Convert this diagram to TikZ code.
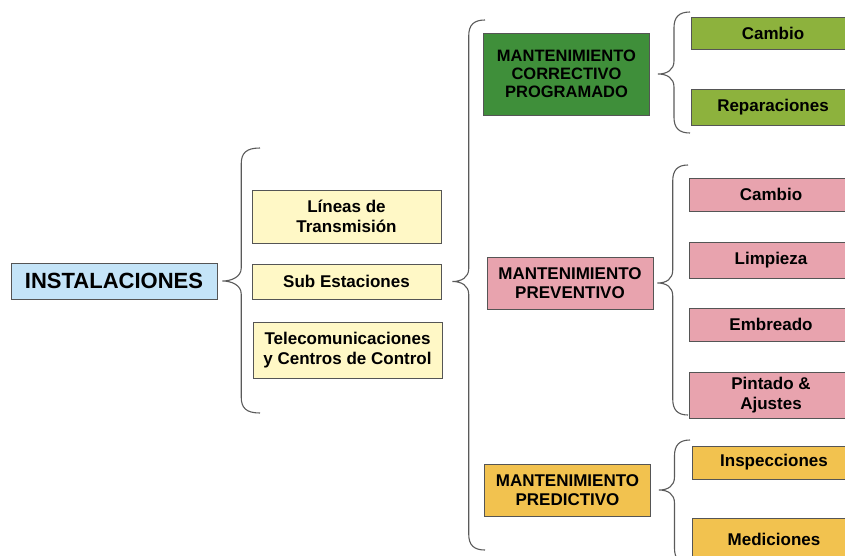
\documentclass[tikz,border=0pt]{standalone}
\usepackage{fontspec}
\setmainfont{Liberation Sans}
\usetikzlibrary{calc}

\definecolor{instblue}{HTML}{C4E4F8}
\definecolor{paleyellow}{HTML}{FFF8C6}
\definecolor{darkgreen}{HTML}{3F8F3A}
\definecolor{lightgreen}{HTML}{8DB23D}
\definecolor{pinkbox}{HTML}{E8A3AE}
\definecolor{amber}{HTML}{F2C24F}
\definecolor{boxline}{HTML}{555555}
\definecolor{braceline}{HTML}{5A5A5A}

\tikzset{
  box/.style={draw=boxline, line width=0.9pt, align=center, inner sep=0pt,
    font=\bfseries\fontsize{17}{19.5}\selectfont},
  subbox/.style={box, minimum width=189pt, fill=paleyellow},
  typebox/.style={box, minimum width=166pt, minimum height=52pt},
  taskbox/.style={box, minimum width=164pt},
  brace/.style={draw=braceline, line width=1.1pt},
}

% curly brace: tip, top end, bottom end
\newcommand{\curly}[3]{%
  \draw[brace] let \p1=(#1), \p2=(#2), \p3=(#3), \n1={0.5*\x1+0.5*\x2} in
    (\p2) .. controls (\n1+5pt,\y2) and (\n1,\y2-5pt) .. (\n1,\y2-16pt)
    -- (\n1,\y1+13pt) .. controls (\n1,\y1+4pt) and (\x1+9pt,\y1) .. (\p1)
    .. controls (\x1+9pt,\y1) and (\n1,\y1-4pt) .. (\n1,\y1-13pt)
    -- (\n1,\y3+16pt) .. controls (\n1,\y3+5pt) and (\n1+5pt,\y3) .. (\p3);}

\begin{document}
\begin{tikzpicture}[x=1pt,y=-1pt]
    \useasboundingbox (0,0) rectangle (845,555);
    \clip (0,0) rectangle (845,555);

    \node[box, fill=instblue, minimum width=206pt, minimum height=36pt,
      font=\bfseries\fontsize{22}{24}\selectfont] (inst) at (114,281) {INSTALACIONES};

    \node[subbox, minimum height=53pt] (lineas) at (346.5,216.5) {Líneas de\\Transmisión};
    \node[subbox, minimum height=35pt] (subest) at (346.5,281.5) {Sub Estaciones};
    \node[subbox, minimum height=56pt] (telecom) at (347.5,350) {Telecomunicaciones\\y Centros de Control};

    \node[typebox, fill=darkgreen, minimum height=82pt,
      font=\bfseries\fontsize{16.5}{18}\selectfont] (correct) at (566.5,74)
      {MANTENIMIENTO\\CORRECTIVO\\PROGRAMADO};
    \node[typebox, fill=pinkbox] (prevent) at (570,283) {MANTENIMIENTO\\PREVENTIVO};
    \node[typebox, fill=amber] (predict) at (567.5,490) {MANTENIMIENTO\\PREDICTIVO};

    \node[taskbox, fill=lightgreen, minimum height=32pt] (cambioA) at (773,33) {Cambio};
    \node[taskbox, fill=lightgreen, minimum height=36pt] (repar) at (773,107) {Reparaciones};

    \node[taskbox, fill=pinkbox, minimum height=33pt] (cambioB) at (771,194.5) {Cambio};
    \node[taskbox, fill=pinkbox, minimum height=36pt] (limpieza) at (771,260) {Limpieza};
    \node[taskbox, fill=pinkbox, minimum height=33pt] (embreado) at (771,324.5) {Embreado};
    \node[taskbox, fill=pinkbox, minimum height=46pt] (pintado) at (771,395) {Pintado \&\\Ajustes};

    \node[taskbox, fill=amber, minimum height=33pt] (inspecc) at (774,462.5) {Inspecciones};
    \node[taskbox, fill=amber, minimum height=42pt] (medic) at (774,539) {Mediciones};

    % brace tips and ends
    \coordinate (tipA) at ([xshift=5pt]inst.east);
    \coordinate (tipB) at ([xshift=11pt]subest.east);
    \coordinate (tipC) at ([xshift=8pt]correct.east);
    \coordinate (tipD) at ([xshift=4pt]prevent.east);
    \coordinate (tipE) at ([xshift=8pt]predict.east);
    \coordinate (topA) at (260,148);  \coordinate (botA) at (260,413);
    \coordinate (topB) at (485,20);   \coordinate (botB) at (485,550);
    \coordinate (topC) at (690,12);   \coordinate (botC) at (690,133);
    \coordinate (topD) at (688,165);  \coordinate (botD) at (688,415);
    \coordinate (topE) at (690,440);  \coordinate (botE) at (690,564);

    \curly{tipA}{topA}{botA}
    \curly{tipB}{topB}{botB}
    \curly{tipC}{topC}{botC}
    \curly{tipD}{topD}{botD}
    \curly{tipE}{topE}{botE}

  \end{tikzpicture}
\end{document}
